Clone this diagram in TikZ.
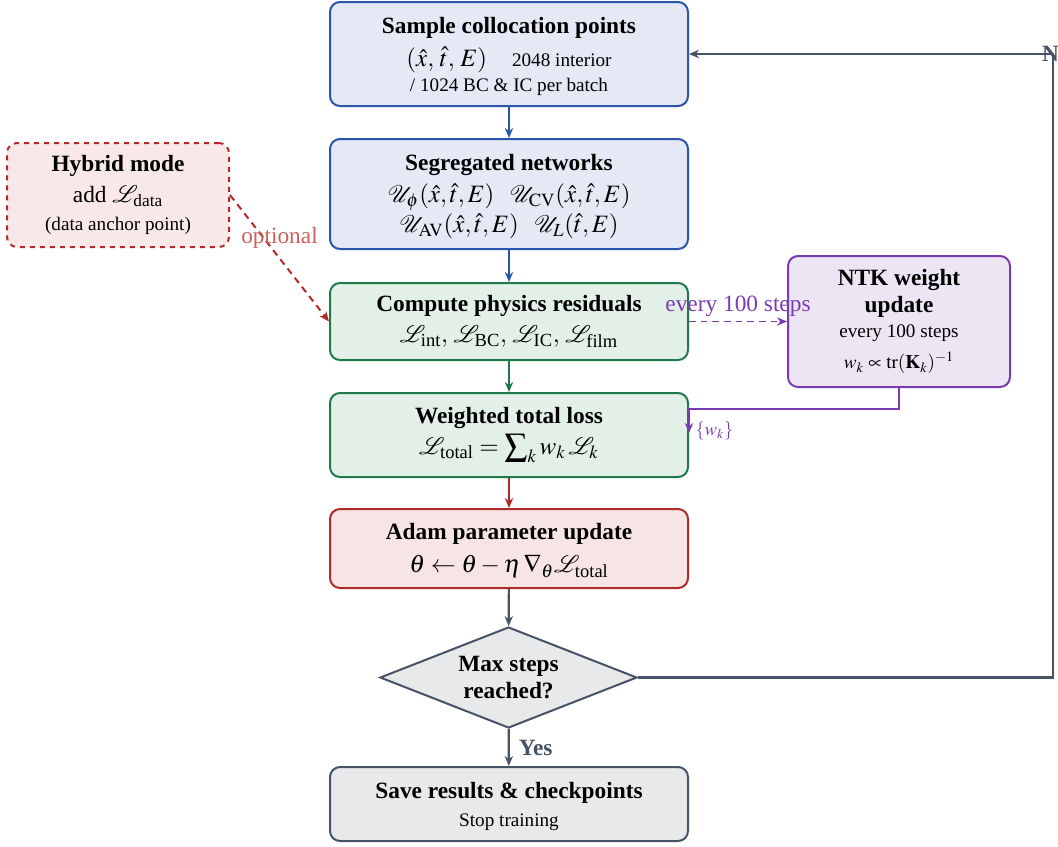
\documentclass[tikz,border=0pt]{standalone}
\usepackage{amsmath}
\usepackage{mathptmx}
\usepackage{mathrsfs}
\usepackage{fontspec}
\setmainfont{Liberation Serif}
\usetikzlibrary{shapes.geometric,arrows.meta,calc}
\definecolor{blueB}{HTML}{2B55A8}\definecolor{blueF}{HTML}{E4E9F5}
\definecolor{greenB}{HTML}{1F7A4A}\definecolor{greenF}{HTML}{E3F0E8}
\definecolor{redB}{HTML}{B02A2A}\definecolor{redF}{HTML}{F6E5E4}
\definecolor{purB}{HTML}{7B3BB0}\definecolor{purF}{HTML}{ECE5F3}
\definecolor{slate}{HTML}{465266}\definecolor{grayF}{HTML}{E8E9EB}
\definecolor{hybF}{HTML}{F8E8E8}\definecolor{optred}{HTML}{C9625C}
\newcommand{\ttl}[1]{{\fontsize{14}{16}\selectfont\bfseries #1}}
\newcommand{\sml}{\fontsize{11.5}{14}\selectfont}
\newcommand{\topstrut}{\rule{0pt}{12.5pt}}
\newcommand{\bigsum}{\mathop{\vcenter{\hbox{\scalebox{1.3}{$\textstyle\sum$}}}}\nolimits}
\tikzset{
  box/.style={draw, rounded corners=6pt, line width=1.2pt, align=center,
    minimum width=214.8pt, inner sep=2pt, font=\fontsize{15}{17}\selectfont},
  bluebox/.style={box, draw=blueB, fill=blueF},
  greenbox/.style={box, draw=greenB, fill=greenF},
  redbox/.style={box, draw=redB, fill=redF},
  graybox/.style={box, draw=slate, fill=grayF},
  arr/.style={line width=1.3pt, -{Stealth[length=6pt,width=5pt]}},
  lbl/.style={font=\fontsize{14}{16}\selectfont},
  blbl/.style={font=\fontsize{14}{16}\selectfont\bfseries, text=slate},
}
\begin{document}
\begin{tikzpicture}[x=0.6pt,y=-0.6pt]
\useasboundingbox (0,0) rectangle (1058,846);
\node[bluebox, minimum height=62.4pt] (b1) at (509,54)
  {\topstrut\ttl{Sample collocation points}\\[2.6pt]
   $(\hat{x},\,\hat{t},\,E)$\quad{\sml 2048 interior}\\[-1.8pt]
   {\sml / 1024 BC \& IC per batch}};
\node[bluebox, minimum height=66pt] (b2) at (509,194)
  {\topstrut\ttl{Segregated networks}\\[2.6pt]
   $\mathscr{U}_{\phi}(\hat{x},\hat{t},E)\ \ \,\mathscr{U}_{\mathrm{CV}}(\hat{x},\hat{t},E)$\\[0.8pt]
   $\mathscr{U}_{\mathrm{AV}}(\hat{x},\hat{t},E)\ \ \,\mathscr{U}_{L}(\hat{t},E)$};
\node[greenbox, minimum height=46.2pt] (b3) at (509,321.5)
  {\ttl{Compute physics residuals}\\[1.5pt]
   $\mathscr{L}_{\text{int}},\,\mathscr{L}_{\text{BC}},\,\mathscr{L}_{\text{IC}},\,\mathscr{L}_{\text{film}}$};
\node[greenbox, minimum height=50.4pt] (b4) at (509,435)
  {\ttl{Weighted total loss}\\[1.6pt]
   $\mathscr{L}_{\text{total}} = \bigsum_k w_k\,\mathscr{L}_k$};
\node[redbox, minimum height=47.4pt] (b5) at (509,548.5)
  {\topstrut\ttl{Adam parameter update}\\[2.8pt]
   $\theta \leftarrow \theta - \eta\,\nabla_{\theta}\mathscr{L}_{\text{total}}$};
\node[draw=slate, fill=grayF, line width=1.2pt, diamond, shape aspect=2.54,
  minimum width=154.2pt, minimum height=60.6pt, inner sep=0pt, align=center] (dec) at (508.5,677.5)
  {\ttl{Max steps}\\[2.2pt]\ttl{reached?}};
\node[graybox, minimum height=44.4pt] (b6) at (509,804)
  {\topstrut\ttl{Save results \& checkpoints}\\[0.2pt]{\sml Stop training}};
\node[box, draw=redB, fill=hybF, dashed, font=\fontsize{14}{17}\selectfont, minimum width=133.2pt, minimum height=62.4pt] (hyb) at (118,195)
  {\ttl{Hybrid mode}\\[1.2pt] add $\mathscr{L}_{\text{data}}$\\ {\sml (data anchor point)}};
\node[box, draw=purB, fill=purF, minimum width=133.2pt, minimum height=78.6pt] (ntk) at (899,321.5)
  {\ttl{NTK weight}\\[-0.6pt]\ttl{update}\\[-2pt]{\sml every 100 steps}\\[1.6pt] {\sml $w_k \propto \mathrm{tr}(\mathbf{K}_k)^{-1}$}};
% main flow
\draw[arr, blueB] (b1) -- (b2);
\draw[arr, blueB] (b2) -- (b3);
\draw[arr, greenB] (b3) -- (b4);
\draw[arr, redB] (b4) -- (b5);
\draw[arr, slate] (b5) -- (dec);
\draw[arr, slate] (dec) -- node[right, xshift=2pt, blbl] {Yes} (b6);
% loop back
\coordinate (noc) at (1053,54);
\draw[arr, slate] (dec.east) -| (noc) -- (b1.east);
\node[blbl, xshift=2pt] (nolab) at (noc) {No};
% hybrid
\draw[arr, redB, dash pattern=on 4pt off 3pt, line width=1.2pt] (hyb.east) -- node[midway, yshift=12pt, text=optred, lbl] {optional} (b3.west);
% NTK
\draw[arr, purB, dash pattern=on 4pt off 3pt, line width=1.1pt] (b3.east) -- node[midway, above, yshift=-1pt, lbl] {every 100 steps} (ntk.west);
\coordinate (wkc) at ($(b4.north east)+(0,17)$);
\coordinate (wke) at ($(wkc)+(0,24)$);
\draw[arr, purB] (ntk.south) |- (wkc) -- (wke);
\node[anchor=west, text=purB, font=\fontsize{11}{13}\selectfont, inner sep=2pt] (wklab) at ($(wke)+(3,-2)$) {$\{w_k\}$};
\end{tikzpicture}
\end{document}
